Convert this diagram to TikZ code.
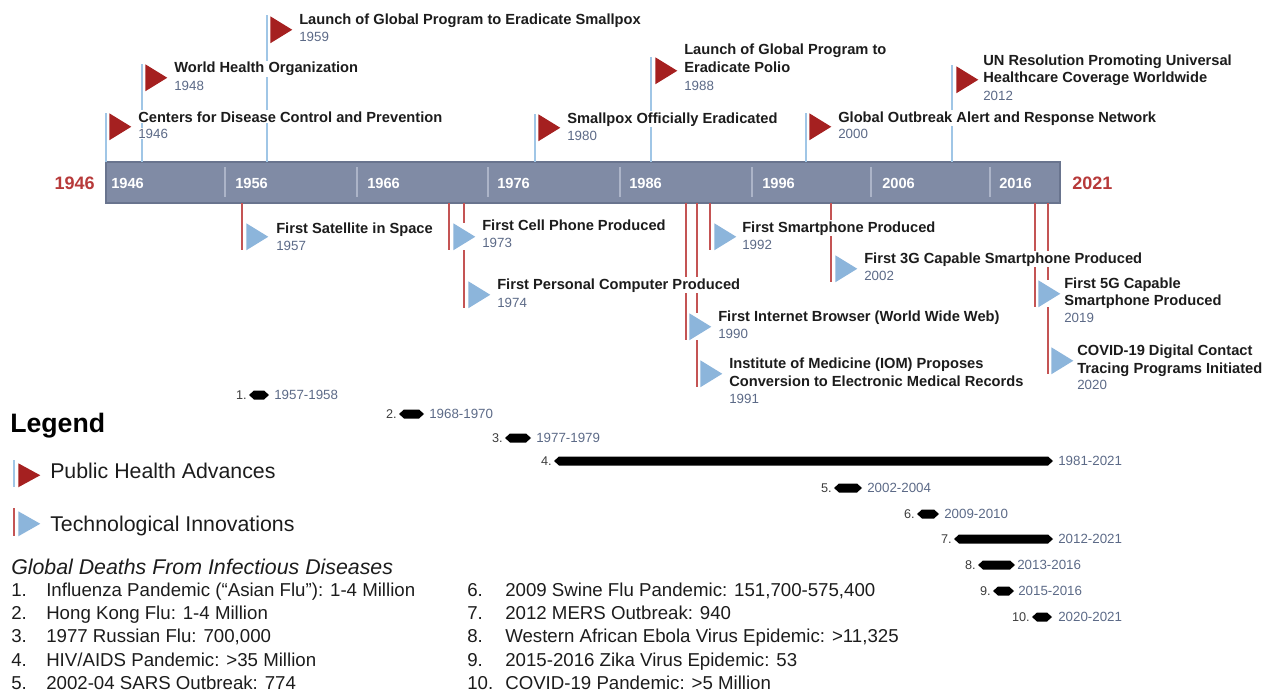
\documentclass[tikz,border=0pt]{standalone}
\usepackage{fontspec}
\setmainfont{Liberation Sans}
\definecolor{barfill}{RGB}{128,139,165}
\definecolor{bardraw}{RGB}{105,116,142}
\definecolor{barsep}{RGB}{172,180,200}
\definecolor{flagred}{RGB}{165,32,32}
\definecolor{flagblue}{RGB}{140,181,219}
\definecolor{stemblue}{RGB}{160,198,230}
\definecolor{stemred}{RGB}{196,84,84}
\definecolor{yeargray}{RGB}{92,106,135}
\definecolor{endred}{RGB}{183,58,58}
\definecolor{inkblack}{RGB}{28,28,28}
\definecolor{numgray}{RGB}{60,60,60}
\tikzset{
  flagbox/.style={rectangle, fill=white, inner sep=0pt, anchor=north west, minimum width=16.5pt, minimum height=20.25pt},
  phflag/.style={flagbox, path picture={\fill[flagred] (path picture bounding box.north west) -- (path picture bounding box.east) -- (path picture bounding box.south west) -- cycle;}},
  tiflag/.style={flagbox, path picture={\fill[flagblue] (path picture bounding box.north west) -- (path picture bounding box.east) -- (path picture bounding box.south west) -- cycle;}},
  phstem/.style={draw=stemblue, line width=0.9pt},
  tistem/.style={draw=stemred, line width=0.9pt},
  evtitle/.style={anchor=base west, fill=white, inner sep=0.75pt, text=inkblack, font=\fontsize{11}{13}\selectfont\bfseries},
  evyear/.style={anchor=base west, fill=white, inner sep=0.75pt, text=yeargray, font=\fontsize{10}{12}\selectfont},
  barlabel/.style={anchor=west, inner sep=0pt, text=white, font=\fontsize{11}{13}\selectfont\bfseries},
  endyear/.style={inner sep=0pt, text=endred, font=\fontsize{13.5}{16}\selectfont\bfseries},
  pbar/.style={fill=black},
  pnum/.style={anchor=east, inner sep=0.75pt, text=numgray, font=\fontsize{9.5}{11}\selectfont},
  prange/.style={anchor=west, inner sep=0.75pt, text=yeargray, font=\fontsize{10}{12}\selectfont},
  legtext/.style={anchor=base west, inner sep=0pt, text=inkblack, font=\fontsize{16}{19}\selectfont},
  listitem/.style={anchor=base west, inner sep=0pt, text=inkblack, font=\fontsize{14}{17}\selectfont}
}
\begin{document}
\begin{tikzpicture}[x=0.75pt,y=0.75pt,yscale=-1,xscale=1]
\useasboundingbox (0,0) rectangle (1276,692);
\draw [draw=bardraw, fill=barfill, line width=0.8] (106,162) rectangle (1060,203);
\draw [barsep, line width=0.8] (225,167) -- (225,197) (357,167) -- (357,197) (488,167) -- (488,197) (620,167) -- (620,197) (752,167) -- (752,197) (871,167) -- (871,197) (990,167) -- (990,197);
\node [barlabel] (b1946) at (111,183) {1946};
\node [barlabel] (b1956) at (235,183) {1956};
\node [barlabel] (b1966) at (367,183) {1966};
\node [barlabel] (b1976) at (497,183) {1976};
\node [barlabel] (b1986) at (629,183) {1986};
\node [barlabel] (b1996) at (762,183) {1996};
\node [barlabel] (b2006) at (882,183) {2006};
\node [barlabel] (b2016) at (999,183) {2016};
\node [endyear, anchor=east] (start) at (95,183) {1946};
\node [endyear, anchor=west] (stop) at (1072,183) {2021};

\draw [phstem] (106,162) -- (106,113);
\draw [phstem] (142,162) -- (142,64);
\draw [phstem] (267,162) -- (267,15);
\draw [phstem] (535,162) -- (535,114);
\draw [phstem] (651,162) -- (651,57);
\draw [phstem] (806,162) -- (806,113);
\draw [phstem] (952,162) -- (952,65);
\draw [tistem] (242,203) -- (242,250);
\draw [tistem] (449,203) -- (449,250);
\draw [tistem] (464,203) -- (464,308);
\draw [tistem] (686,203) -- (686,340);
\draw [tistem] (697,203) -- (697,387);
\draw [tistem] (710,203) -- (710,250);
\draw [tistem] (831,203) -- (831,282);
\draw [tistem] (1035,203) -- (1035,307);
\draw [tistem] (1048,203) -- (1048,374);

\node [phflag] (cdcflag) at (109,113) {};
\node [phflag] (whoflag) at (145,64) {};
\node [phflag] (spxflag) at (270,16) {};
\node [phflag] (eradflag) at (538,114) {};
\node [phflag] (polioflag) at (655,57) {};
\node [phflag] (goarnflag) at (809,113) {};
\node [phflag] (unflag) at (956,66) {};
\node [tiflag] (satflag) at (246,223) {};
\node [tiflag] (cellflag) at (453,223) {};
\node [tiflag] (pcflag) at (468,281) {};
\node [tiflag] (webflag) at (689,313) {};
\node [tiflag] (iomflag) at (700,360) {};
\node [tiflag] (phoneflag) at (714,223) {};
\node [tiflag] (gthreeflag) at (835,255) {};
\node [tiflag] (gfiveflag) at (1038,280) {};
\node [tiflag] (covidflag) at (1051,347) {};

\node [evtitle] (spx) at (298,25) {Launch of Global Program to Eradicate Smallpox};
\node [evyear] (spxyr) at (298,42) {1959};
\node [evtitle] (who) at (173,73) {World Health Organization};
\node [evyear] (whoyr) at (173,90) {1948};
\node [evtitle] (cdc) at (137,122) {Centers for Disease Control and Prevention};
\node [evyear] (cdcyr) at (137,138) {1946};
\node [evtitle] (erad) at (566,123) {Smallpox Officially Eradicated};
\node [evyear] (eradyr) at (566,140) {1980};
\node [evtitle] (polio) at (683,55) {Launch of Global Program to};
\node [evtitle] (poliob) at (683,73) {Eradicate Polio};
\node [evyear] (polioyr) at (683,90) {1988};
\node [evtitle] (goarn) at (837,122) {Global Outbreak Alert and Response Network};
\node [evyear] (goarnyr) at (837,138) {2000};
\node [evtitle] (un) at (982,65) {UN Resolution Promoting Universal};
\node [evtitle] (unb) at (982,83) {Healthcare Coverage Worldwide};
\node [evyear] (unyr) at (982,100) {2012};

\node [evtitle] (sat) at (275,233) {First Satellite in Space};
\node [evyear] (satyr) at (275,250) {1957};
\node [evtitle] (cell) at (481,230) {First Cell Phone Produced};
\node [evyear] (cellyr) at (481,247) {1973};
\node [evtitle] (pc) at (496,289) {First Personal Computer Produced};
\node [evyear] (pcyr) at (496,307) {1974};
\node [evtitle] (web) at (717,321) {First Internet Browser (World Wide Web)};
\node [evyear] (webyr) at (717,338) {1990};
\node [evtitle] (iom) at (728,368) {Institute of Medicine (IOM) Proposes};
\node [evtitle] (iomb) at (728,386) {Conversion to Electronic Medical Records};
\node [evyear] (iomyr) at (728,403) {1991};
\node [evtitle] (phone) at (741,232) {First Smartphone Produced};
\node [evyear] (phoneyr) at (741,249) {1992};
\node [evtitle] (gthree) at (863,263) {First 3G Capable Smartphone Produced};
\node [evyear] (gthreeyr) at (863,280) {2002};
\node [evtitle] (gfive) at (1063,288) {First 5G Capable};
\node [evtitle] (gfiveb) at (1063,305) {Smartphone Produced};
\node [evyear] (gfiveyr) at (1063,322) {2019};
\node [evtitle] (covid) at (1076,355) {COVID-19 Digital Contact};
\node [evtitle] (covidb) at (1076,373) {Tracing Programs Initiated};
\node [evyear] (covidyr) at (1076,389) {2020};

\fill [pbar] (249,395) -- (254,390.5) -- (264,390.5) -- (269,395) -- (264,399.5) -- (254,399.5) -- cycle;
\node [pnum] (pone) at (248,395) {1.};
\node [prange] (poneyr) at (273,395) {1957-1958};
\fill [pbar] (399,414) -- (404,409.5) -- (419,409.5) -- (424,414) -- (419,418.5) -- (404,418.5) -- cycle;
\node [pnum] (ptwo) at (398,414) {2.};
\node [prange] (ptwoyr) at (428,414) {1968-1970};
\fill [pbar] (505,438) -- (510,433.5) -- (526,433.5) -- (531,438) -- (526,442.5) -- (510,442.5) -- cycle;
\node [pnum] (pthree) at (504,438) {3.};
\node [prange] (pthreeyr) at (535,438) {1977-1979};
\fill [pbar] (554,461) -- (559,456.5) -- (1048,456.5) -- (1053,461) -- (1048,465.5) -- (559,465.5) -- cycle;
\node [pnum] (pfour) at (553,461) {4.};
\node [prange] (pfouryr) at (1057,461) {1981-2021};
\fill [pbar] (834,488) -- (839,483.5) -- (857,483.5) -- (862,488) -- (857,492.5) -- (839,492.5) -- cycle;
\node [pnum] (pfive) at (833,488) {5.};
\node [prange] (pfiveyr) at (866,488) {2002-2004};
\fill [pbar] (917,514) -- (922,509.5) -- (934,509.5) -- (939,514) -- (934,518.5) -- (922,518.5) -- cycle;
\node [pnum] (psix) at (916,514) {6.};
\node [prange] (psixyr) at (943,514) {2009-2010};
\fill [pbar] (954,539) -- (959,534.5) -- (1048,534.5) -- (1053,539) -- (1048,543.5) -- (959,543.5) -- cycle;
\node [pnum] (pseven) at (953,539) {7.};
\node [prange] (psevenyr) at (1057,539) {2012-2021};
\fill [pbar] (978,565) -- (983,560.5) -- (1010,560.5) -- (1015,565) -- (1010,569.5) -- (983,569.5) -- cycle;
\node [pnum] (peight) at (977,565) {8.};
\node [prange] (peightyr) at (1016,565) {2013-2016};
\fill [pbar] (993,591) -- (998,586.5) -- (1009,586.5) -- (1014,591) -- (1009,595.5) -- (998,595.5) -- cycle;
\node [pnum] (pnine) at (992,591) {9.};
\node [prange] (pnineyr) at (1017,591) {2015-2016};
\fill [pbar] (1032,617) -- (1037,612.5) -- (1047,612.5) -- (1052,617) -- (1047,621.5) -- (1037,621.5) -- cycle;
\node [pnum] (pten) at (1031,617) {10.};
\node [prange] (ptenyr) at (1057,617) {2020-2021};

\node [anchor=base west, inner sep=0pt, text=black, font=\fontsize{20}{24}\selectfont\bfseries] (legend) at (10,432) {Legend};
\draw [phstem] (14,460) -- (14,487);
\node [phflag, minimum height=18pt] (legphflag) at (18,463) {};
\node [legtext] (legph) at (50,478) {Public Health Advances};
\draw [tistem] (14,508) -- (14,536);
\node [tiflag, minimum height=18.75pt] (legtiflag) at (18,511) {};
\node [legtext] (legti) at (50,531) {Technological Innovations};

\node [anchor=base west, inner sep=0pt, text=inkblack, font=\fontsize{16}{19}\selectfont\itshape] (gdhead) at (11,574) {Global Deaths From Infectious Diseases};
\node [listitem] (lone) at (11,596) {1.};
\node [listitem] (lonet) at (46,596) {Influenza Pandemic (“Asian Flu”): 1-4 Million};
\node [listitem] (ltwo) at (11,619.4) {2.};
\node [listitem] (ltwot) at (46,619.4) {Hong Kong Flu: 1-4 Million};
\node [listitem] (lthree) at (11,642.8) {3.};
\node [listitem] (lthreet) at (46,642.8) {1977 Russian Flu: 700,000};
\node [listitem] (lfour) at (11,666.2) {4.};
\node [listitem] (lfourt) at (46,666.2) {HIV/AIDS Pandemic: >35 Million};
\node [listitem] (lfive) at (11,689.6) {5.};
\node [listitem] (lfivet) at (46,689.6) {2002-04 SARS Outbreak: 774};
\node [listitem] (lsix) at (467,596) {6.};
\node [listitem] (lsixt) at (505,596) {2009 Swine Flu Pandemic: 151,700-575,400};
\node [listitem] (lseven) at (467,619.4) {7.};
\node [listitem] (lsevent) at (505,619.4) {2012 MERS Outbreak: 940};
\node [listitem] (leight) at (467,642.8) {8.};
\node [listitem] (leightt) at (505,642.8) {Western African Ebola Virus Epidemic: >11,325};
\node [listitem] (lnine) at (467,666.2) {9.};
\node [listitem] (lninet) at (505,666.2) {2015-2016 Zika Virus Epidemic: 53};
\node [listitem] (lten) at (467,689.6) {10.};
\node [listitem] (ltent) at (505,689.6) {COVID-19 Pandemic: >5 Million};
\end{tikzpicture}
\end{document}
